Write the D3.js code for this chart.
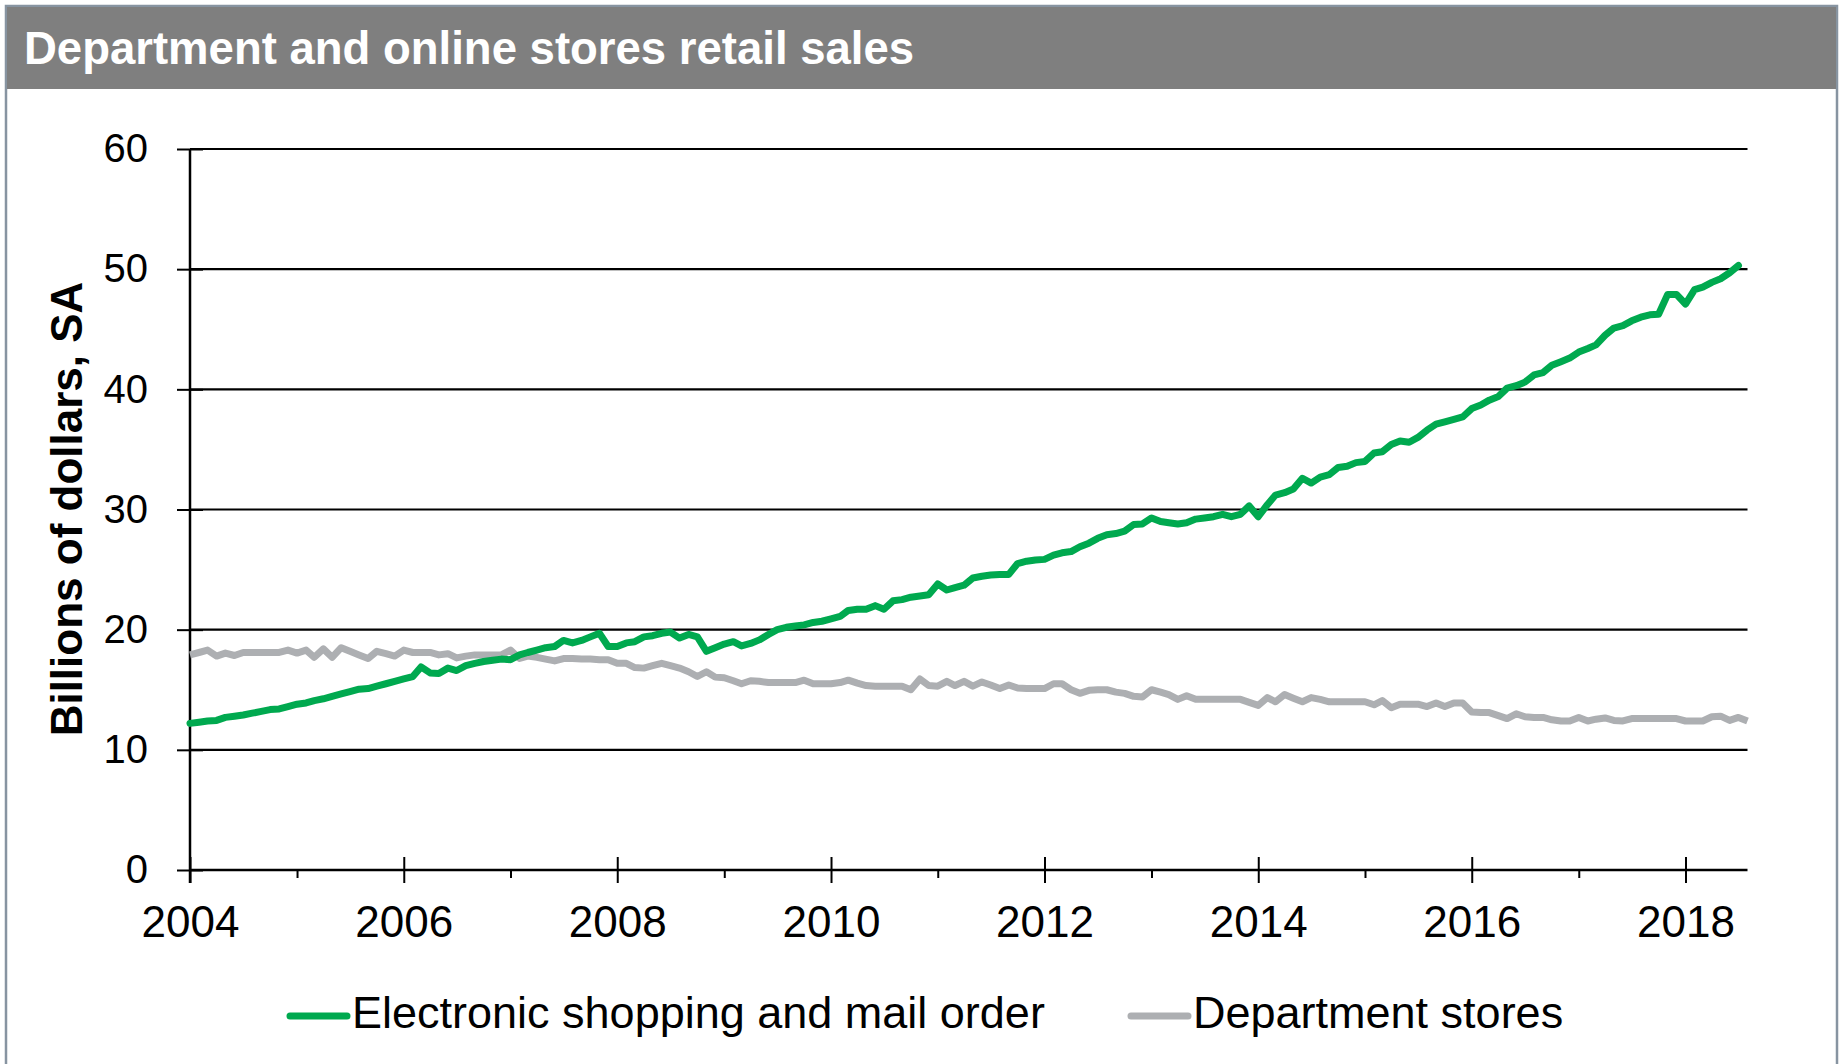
<!DOCTYPE html>
<html>
<head>
<meta charset="utf-8">
<script src="https://cdn.jsdelivr.net/npm/d3@7"></script>
<style>
  body { margin: 0; background: #fff; }
  svg { display: block; font-family: "Liberation Sans", Arial, sans-serif; }
</style>
</head>
<body>
<div id="chart"></div>
<script>
'use strict';

// monthly, first value = Jan 2004
var firstMonth = new Date(2004, 0, 1);
var lastAxisMonth = new Date(2018, 7, 1);

var titleText = 'Department and online stores retail sales';
var yTitle = 'Billions of dollars, SA';
var seriesNames = ['Electronic shopping and mail order', 'Department stores'];

// Electronic shopping and mail order, Jan 2004 - Jul 2018
var online = [
  12.2, 12.3, 12.4, 12.45, 12.7, 12.8, 12.9, 13.05, 13.2, 13.35, 13.4, 13.6,
  13.8, 13.9, 14.1, 14.25, 14.45, 14.65, 14.85, 15.05, 15.1, 15.3, 15.5, 15.7,
  15.9, 16.1, 16.9, 16.4, 16.35, 16.8, 16.6, 17.0, 17.2, 17.35, 17.45, 17.55,
  17.5, 17.9, 18.1, 18.3, 18.5, 18.6, 19.1, 18.9, 19.1, 19.4, 19.7, 18.6,
  18.6, 18.9, 19.0, 19.4, 19.5, 19.7, 19.8, 19.3, 19.6, 19.4, 18.2, 18.5,
  18.8, 19.0, 18.65, 18.85, 19.15, 19.6, 20.0, 20.2, 20.3, 20.4, 20.6, 20.7,
  20.9, 21.1, 21.6, 21.7, 21.7, 22.0, 21.7, 22.4, 22.5, 22.7, 22.8, 22.9,
  23.8, 23.3, 23.5, 23.7, 24.3, 24.45, 24.55, 24.6, 24.6, 25.5, 25.7, 25.8,
  25.85, 26.2, 26.4, 26.5, 26.9, 27.2, 27.6, 27.9, 28.0, 28.2, 28.75, 28.8,
  29.3, 29.0, 28.9, 28.8, 28.9, 29.2, 29.3, 29.4, 29.6, 29.4, 29.6, 30.3,
  29.4, 30.4, 31.2, 31.4, 31.7, 32.6, 32.2, 32.7, 32.9, 33.5, 33.6, 33.9,
  34.0, 34.7, 34.8, 35.4, 35.7, 35.6, 36.0, 36.6, 37.1, 37.3, 37.5, 37.7,
  38.4, 38.7, 39.1, 39.4, 40.1, 40.3, 40.6, 41.2, 41.4, 42.0, 42.3, 42.6,
  43.1, 43.4, 43.7, 44.5, 45.1, 45.3, 45.7, 46.0, 46.2, 46.25, 47.9, 47.9,
  47.1, 48.3, 48.5, 48.9, 49.2, 49.7, 50.3
];

// Department stores, Jan 2004 - Aug 2018
var department = [
  17.9, 18.1, 18.3, 17.8, 18.05, 17.85, 18.1, 18.1, 18.1, 18.1, 18.1, 18.3,
  18.05, 18.3, 17.7, 18.4, 17.7, 18.5, 18.2, 17.9, 17.6, 18.2, 18.0, 17.8,
  18.3, 18.1, 18.1, 18.1, 17.9, 18.0, 17.65, 17.8, 17.9, 17.9, 17.9, 17.9,
  18.3, 17.6, 17.8, 17.7, 17.55, 17.4, 17.6, 17.6, 17.55, 17.55, 17.5, 17.5,
  17.2, 17.2, 16.85, 16.8, 17.0, 17.2, 17.0, 16.8, 16.5, 16.1, 16.5, 16.05,
  16.0, 15.75, 15.5, 15.75, 15.7, 15.6, 15.6, 15.6, 15.6, 15.8, 15.5, 15.5,
  15.5, 15.6, 15.8, 15.55, 15.35, 15.3, 15.3, 15.3, 15.3, 15.0, 15.9, 15.35,
  15.3, 15.7, 15.35, 15.7, 15.3, 15.65, 15.4, 15.1, 15.4, 15.15, 15.1, 15.1,
  15.1, 15.5, 15.5, 15.0, 14.7, 14.95, 15.0, 15.0, 14.8, 14.7, 14.45, 14.4,
  15.0, 14.8, 14.6, 14.2, 14.5, 14.2, 14.2, 14.2, 14.2, 14.2, 14.2, 13.95,
  13.7, 14.35, 14.0, 14.6, 14.3, 14.0, 14.35, 14.2, 14.0, 14.0, 14.0, 14.0,
  14.0, 13.75, 14.1, 13.5, 13.8, 13.8, 13.8, 13.6, 13.9, 13.6, 13.9, 13.9,
  13.15, 13.1, 13.1, 12.85, 12.6, 13.0, 12.75, 12.7, 12.7, 12.5, 12.4, 12.4,
  12.7, 12.4, 12.55, 12.65, 12.45, 12.4, 12.6, 12.6, 12.6, 12.6, 12.6, 12.6,
  12.4, 12.4, 12.4, 12.75, 12.8, 12.45, 12.7, 12.4
];

var yTicks = [0, 10, 20, 30, 40, 50, 60];
var majorYears = [2004, 2006, 2008, 2010, 2012, 2014, 2016, 2018];
var minorYears = [2005, 2007, 2009, 2011, 2013, 2015, 2017];

var W = 1843, H = 1064;
var plot = { left: 190, right: 1747.5, top: 149, bottom: 870 };
var green = '#00a94f', grey = '#adafb2';

var svg = d3.select('#chart').append('svg')
  .attr('width', W)
  .attr('height', H);

// frame and header
svg.append('rect')
  .attr('x', 6).attr('y', 6)
  .attr('width', 1831).attr('height', H + 10)
  .attr('fill', 'none')
  .attr('stroke', '#8794a1')
  .attr('stroke-width', 2.5);

svg.append('rect')
  .attr('x', 7).attr('y', 7)
  .attr('width', 1829).attr('height', 82)
  .attr('fill', '#7f7f7f');

svg.append('text')
  .attr('x', 24).attr('y', 64)
  .attr('fill', '#fff')
  .attr('font-size', 45.5)
  .attr('font-weight', 'bold')
  .text(titleText);

var x = d3.scaleTime()
  .domain([firstMonth, lastAxisMonth])
  .range([plot.left, plot.right]);

var y = d3.scaleLinear()
  .domain([0, 60])
  .range([plot.bottom, plot.top]);

function monthDate(i) {
  return d3.timeMonth.offset(firstMonth, i);
}

// gridlines
svg.append('g')
  .attr('class', 'grid')
  .selectAll('line')
  .data(yTicks.slice(1))
  .enter()
  .append('line')
  .attr('x1', plot.left)
  .attr('x2', plot.right)
  .attr('y1', function(d) { return y(d); })
  .attr('y2', function(d) { return y(d); })
  .attr('stroke', '#000')
  .attr('stroke-width', 2.2);

// y axis
var yAxis = d3.axisLeft(y)
  .tickValues(yTicks)
  .tickSize(13)
  .tickPadding(29);

var yAxisGroup = svg.append('g')
  .attr('transform', 'translate(' + plot.left + ',0)')
  .call(yAxis);

yAxisGroup.select('.domain').remove();
yAxisGroup.selectAll('.tick line')
  .attr('x1', 13)
  .attr('stroke', '#000')
  .attr('stroke-width', 2);
yAxisGroup.selectAll('.tick text')
  .attr('font-size', 40)
  .attr('font-family', null)
  .attr('fill', '#000');

// x axis, major ticks cross the axis, minor ticks below only
var xAxis = d3.axisBottom(x)
  .tickValues(majorYears.map(function(yr) { return new Date(yr, 0, 1); }))
  .tickFormat(d3.timeFormat('%Y'))
  .tickSize(13)
  .tickPadding(23);

var xAxisGroup = svg.append('g')
  .attr('transform', 'translate(0,' + plot.bottom + ')')
  .call(xAxis);

xAxisGroup.select('.domain').remove();
xAxisGroup.selectAll('.tick line')
  .attr('y1', -13)
  .attr('stroke', '#000')
  .attr('stroke-width', 2);
xAxisGroup.selectAll('.tick text')
  .attr('font-size', 44)
  .attr('font-family', null)
  .attr('fill', '#000');

var xMinor = d3.axisBottom(x)
  .tickValues(minorYears.map(function(yr) { return new Date(yr, 0, 1); }))
  .tickFormat('')
  .tickSize(8);

var xMinorGroup = svg.append('g')
  .attr('transform', 'translate(0,' + plot.bottom + ')')
  .call(xMinor);
xMinorGroup.select('.domain').remove();
xMinorGroup.selectAll('.tick line')
  .attr('stroke', '#000')
  .attr('stroke-width', 2);

// axis lines
svg.append('line')
  .attr('x1', plot.left).attr('x2', plot.right)
  .attr('y1', plot.bottom).attr('y2', plot.bottom)
  .attr('stroke', '#000').attr('stroke-width', 2.5);

svg.append('line')
  .attr('x1', plot.left).attr('x2', plot.left)
  .attr('y1', plot.top).attr('y2', plot.bottom + 13)
  .attr('stroke', '#000').attr('stroke-width', 2.5);

// y axis title
svg.append('text')
  .attr('transform', 'translate(82,509) rotate(-90)')
  .attr('text-anchor', 'middle')
  .attr('font-size', 44)
  .attr('font-weight', 'bold')
  .text(yTitle);

// series
var line = d3.line()
  .x(function(d, i) { return x(monthDate(i)); })
  .y(function(d) { return y(d); });

svg.append('path')
  .datum(department)
  .attr('d', line)
  .attr('fill', 'none')
  .attr('stroke', grey)
  .attr('stroke-width', 7)
  .attr('stroke-linejoin', 'round');

svg.append('path')
  .datum(online)
  .attr('d', line)
  .attr('fill', 'none')
  .attr('stroke', green)
  .attr('stroke-width', 7)
  .attr('stroke-linejoin', 'round')
  .attr('stroke-linecap', 'round');

// legend
var legendItems = [
  { name: seriesNames[0], color: green, x: 290 },
  { name: seriesNames[1], color: grey, x: 1131 }
];

var legend = svg.append('g')
  .selectAll('g')
  .data(legendItems)
  .enter()
  .append('g')
  .attr('transform', function(d) { return 'translate(' + d.x + ',1016)'; });

legend.append('line')
  .attr('x1', 0).attr('x2', 57)
  .attr('y1', 0).attr('y2', 0)
  .attr('stroke', function(d) { return d.color; })
  .attr('stroke-width', 7)
  .attr('stroke-linecap', 'round');

legend.append('text')
  .attr('x', 62)
  .attr('y', 12)
  .attr('font-size', 45)
  .text(function(d) { return d.name; });
</script>
</body>
</html>
